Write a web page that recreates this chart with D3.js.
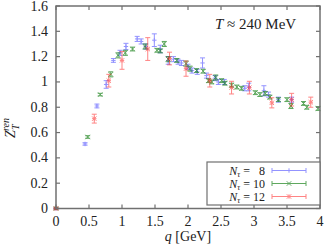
<!DOCTYPE html>
<html><head><meta charset="utf-8">
<script src="https://cdn.jsdelivr.net/npm/d3@7"></script>
<style>
body{margin:0;background:#fff;}
text{font-family:"Liberation Serif",serif;fill:#222;}
</style></head>
<body><svg id="c" width="327" height="246"></svg>
<script>
const xTicks=[0,0.5,1,1.5,2,2.5,3,3.5,4];
const yTicks=[0,0.2,0.4,0.6,0.8,1,1.2,1.4,1.6];
const xTickLabels=["0","0.5","1","1.5","2","2.5","3","3.5","4"];
const yTickLabels=["0","0.2","0.4","0.6","0.8","1","1.2","1.4","1.6"];
const seriesNames=["8","10","12"];
// Nτ=8
const q8=[0,0.44,0.62,0.76,0.87,0.97,1.06,1.23,1.29,1.36,1.49,1.58,1.70,1.78,1.85,1.90,2.00,2.06,2.14,2.22,2.28,2.41,2.46,2.55,2.86,2.92,3.15,3.22,3.37,3.57];
const z8=[0,0.51,0.81,0.98,1.17,1.23,1.28,1.34,1.32,1.28,1.33,1.26,1.17,1.18,1.16,1.15,1.12,1.09,1.08,1.15,1.05,1.03,1.00,1.00,0.95,0.96,0.93,0.90,0.86,0.86];
const e8=[0.005,0.01,0.015,0.03,0.015,0.02,0.025,0.02,0.02,0.02,0.05,0.03,0.03,0.02,0.02,0.02,0.02,0.02,0.02,0.04,0.02,0.02,0.02,0.02,0.02,0.03,0.04,0.02,0.02,0.02];
// Nτ=10
const q10=[0,0.48,0.67,0.83,0.94,1.05,1.16,1.35,1.53,1.58,1.64,1.70,1.83,1.97,2.03,2.13,2.23,2.31,2.36,2.42,2.51,2.56,2.66,2.74,2.81,3.02,3.09,3.17,3.24,3.37,3.50,3.56,3.75,3.80,3.97];
const z10=[0,0.565,0.90,1.06,1.21,1.23,1.26,1.28,1.25,1.245,1.30,1.18,1.17,1.145,1.105,1.09,1.085,1.01,1.00,1.035,1.01,0.99,0.975,0.96,0.95,0.915,0.90,0.91,0.88,0.86,0.86,0.81,0.83,0.80,0.79];
const e10=[0.005,0.01,0.01,0.02,0.02,0.02,0.015,0.02,0.015,0.015,0.02,0.02,0.015,0.02,0.02,0.015,0.015,0.015,0.015,0.02,0.015,0.015,0.015,0.015,0.015,0.015,0.015,0.015,0.015,0.015,0.015,0.02,0.015,0.015,0.015];
// Nτ=12
const q12=[0,0.58,0.80,1.00,1.39,1.72,1.97,2.33,2.66,2.93,3.27,3.57,3.86];
const z12=[0,0.71,1.01,1.17,1.26,1.185,1.105,1.01,0.955,0.955,0.835,0.86,0.84];
const e12=[0.005,0.035,0.05,0.07,0.09,0.05,0.06,0.05,0.05,0.05,0.04,0.05,0.04];

const series=[
 {name:seriesNames[0],q:q8,z:z8,e:e8,color:"#3c3cff",op:0.55,shape:"plus"},
 {name:seriesNames[1],q:q10,z:z10,e:e10,color:"#0a7a0a",op:0.65,shape:"cross"},
 {name:seriesNames[2],q:q12,z:z12,e:e12,color:"#ff2020",op:0.55,shape:"star"}
];

const svg=d3.select("#c");
const m={l:56,t:6,r:7,b:37.5};
const W=327,H=246;
const x=d3.scaleLinear().domain([0,4]).range([m.l,W-m.r]);
const y=d3.scaleLinear().domain([0,1.6]).range([H-m.b,m.t]);
const axCol="#707070";

function marker(g,shape,cx,cy,s,col){
  const p=[];
  if(shape==="plus"||shape==="star"){p.push([cx-s,cy,cx+s,cy],[cx,cy-s,cx,cy+s]);}
  if(shape==="cross"||shape==="star"){p.push([cx-s,cy-s,cx+s,cy+s],[cx-s,cy+s,cx+s,cy-s]);}
  p.forEach(a=>g.append("line").attr("x1",a[0]).attr("y1",a[1]).attr("x2",a[2]).attr("y2",a[3]).attr("stroke",col).attr("stroke-width",1));
}

const plot=svg.append("g");
series.forEach(s=>{
  const g=plot.append("g").attr("opacity",s.op);
  s.q.forEach((qv,i)=>{
    const cx=x(qv),cy=y(s.z[i]),y1=y(s.z[i]+s.e[i]),y2=y(s.z[i]-s.e[i]);
    g.append("line").attr("x1",cx).attr("x2",cx).attr("y1",y1).attr("y2",y2).attr("stroke",s.color);
    [y1,y2].forEach(yy=>g.append("line").attr("x1",cx-2.5).attr("x2",cx+2.5).attr("y1",yy).attr("y2",yy).attr("stroke",s.color));
    marker(g,s.shape,cx,cy,2.2,s.color);
  });
});

// frame
svg.append("rect").attr("x",m.l).attr("y",m.t).attr("width",W-m.r-m.l).attr("height",H-m.b-m.t)
 .attr("fill","none").attr("stroke",axCol).attr("stroke-width",1.5);
const tl=4;
xTicks.forEach((t,i)=>{
  svg.append("line").attr("x1",x(t)).attr("x2",x(t)).attr("y1",y(0)).attr("y2",y(0)-tl).attr("stroke",axCol).attr("stroke-width",1.2);
  svg.append("line").attr("x1",x(t)).attr("x2",x(t)).attr("y1",y(1.6)).attr("y2",y(1.6)+tl).attr("stroke",axCol).attr("stroke-width",1.2);
  svg.append("text").attr("x",x(t)).attr("y",y(0)+17).attr("text-anchor","middle").attr("font-size",14).text(xTickLabels[i]);
});
yTicks.forEach((t,i)=>{
  svg.append("line").attr("x1",x(0)).attr("x2",x(0)+tl).attr("y1",y(t)).attr("y2",y(t)).attr("stroke",axCol).attr("stroke-width",1.2);
  svg.append("line").attr("x1",x(4)).attr("x2",x(4)-tl).attr("y1",y(t)).attr("y2",y(t)).attr("stroke",axCol).attr("stroke-width",1.2);
  svg.append("text").attr("x",x(0)-8).attr("y",y(t)+4.5).attr("text-anchor","end").attr("font-size",14).text(yTickLabels[i]);
});

// axis titles
const xl=svg.append("text").attr("x",188).attr("y",241).attr("text-anchor","middle").attr("font-size",14);
xl.append("tspan").attr("font-style","italic").text("q");
xl.append("tspan").text(" [GeV]");
const yl=svg.append("text").attr("transform","translate(15,128) rotate(-90)").attr("text-anchor","middle").attr("font-size",14);
yl.append("tspan").attr("font-style","italic").text("Z");
yl.append("tspan").attr("font-style","italic").attr("font-size",10).attr("dy",4).text("T");
yl.append("tspan").attr("font-style","italic").attr("font-size",10).attr("dx",-6).attr("dy",-10).text("ren");

// annotation
const an=svg.append("text").attr("x",215).attr("y",29).attr("font-size",15);
an.append("tspan").attr("font-style","italic").text("T");
an.append("tspan").text(" ≈ 240 MeV");

// legend
svg.append("rect").attr("x",207).attr("y",162).attr("width",113).attr("height",43).attr("fill","#fff").attr("stroke",axCol).attr("stroke-width",1.2);
const ly=[170.5,183.5,196.5];
series.forEach((s,i)=>{
  const t=svg.append("text").attr("x",265).attr("y",ly[i]+4).attr("text-anchor","end").attr("font-size",12);
  t.append("tspan").attr("font-style","italic").text("N");
  t.append("tspan").attr("font-style","italic").attr("font-size",8).attr("dy",2).text("τ");
  t.append("tspan").attr("dy",-2).text(" = " + (s.name.length<2?"\u2007":"") + s.name);
  const g=svg.append("g").attr("opacity",s.op);
  g.append("line").attr("x1",272).attr("x2",306).attr("y1",ly[i]).attr("y2",ly[i]).attr("stroke",s.color);
  [272,306].forEach(xx=>g.append("line").attr("x1",xx).attr("x2",xx).attr("y1",ly[i]-2.5).attr("y2",ly[i]+2.5).attr("stroke",s.color));
  marker(g,s.shape,289,ly[i],2.2,s.color);
});
</script></body></html>
